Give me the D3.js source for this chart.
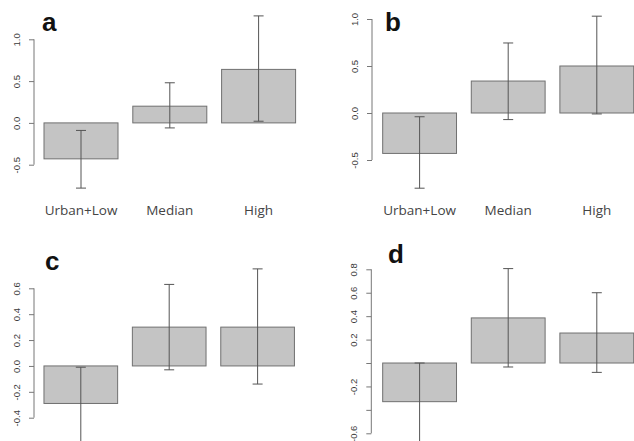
<!DOCTYPE html>
<html><head><meta charset="utf-8">
<script src="https://cdn.jsdelivr.net/npm/d3@7"></script>
<style>body{margin:0;background:#fff}svg{display:block}</style>
</head><body>
<script>
const categories = ["Urban+Low", "Median", "High"];
const panelLabels = ["a", "b", "c", "d"];

const valuesA = [-0.43, 0.20, 0.64];
const lowerA  = [-0.78, -0.06, 0.02];
const upperA  = [-0.09, 0.48, 1.28];
const ticksA  = [-0.5, 0.0, 0.5, 1.0];
const tickLabelsA = ["-0.5", "0.0", "0.5", "1.0"];

const valuesB = [-0.43, 0.34, 0.50];
const lowerB  = [-0.80, -0.07, -0.01];
const upperB  = [-0.04, 0.745, 1.03];
const ticksB  = [-0.5, 0.0, 0.5, 1.0];
const tickLabelsB = ["-0.5", "0.0", "0.5", "1.0"];

const valuesC = [-0.29, 0.30, 0.30];
const lowerC  = [-0.60, -0.03, -0.14];
const upperC  = [-0.01, 0.63, 0.75];
const ticksC  = [-0.4, -0.2, 0.0, 0.2, 0.4, 0.6];
const tickLabelsC = ["-0.4", "-0.2", "0.0", "0.2", "0.4", "0.6"];

const valuesD = [-0.33, 0.385, 0.256];
const lowerD  = [-0.68, -0.034, -0.08];
const upperD  = [0.0, 0.806, 0.60];
const ticksD  = [-0.6, -0.4, -0.2, 0.0, 0.2, 0.4, 0.6, 0.8];
const tickLabelsD = ["-0.6", "", "-0.2", "", "0.2", "0.4", "0.6", "0.8"];

const W = 634, H = 441;
const svg = d3.select("body").append("svg").attr("width", W).attr("height", H);

const panels = [
  {vals: valuesA, lo: lowerA, hi: upperA, ticks: ticksA, tl: tickLabelsA, axisX: 34, left: 36.6, step: 88.8,
   dom: [-0.5, 1.0], rng: [164.7, 39.3], lab: [42, 31], cats: true, catY: 215},
  {vals: valuesB, lo: lowerB, hi: upperB, ticks: ticksB, tl: tickLabelsB, axisX: 372, left: 375.3, step: 88.6,
   dom: [-0.5, 1.0], rng: [160, 19], lab: [385, 31], cats: true, catY: 215},
  {vals: valuesC, lo: lowerC, hi: upperC, ticks: ticksC, tl: tickLabelsC, axisX: 34, left: 36.6, step: 88.4,
   dom: [-0.4, 0.6], rng: [417.7, 288.3], lab: [45, 270], cats: false},
  {vals: valuesD, lo: lowerD, hi: upperD, ticks: ticksD, tl: tickLabelsD, axisX: 371.3, left: 375.3, step: 88.6,
   dom: [-0.6, 0.8], rng: [433.3, 269.3], lab: [388, 263], cats: false}
];

panels.forEach((p, i) => {
  const g = svg.append("g");
  const y = d3.scaleLinear().domain(p.dom).range(p.rng);
  const x = d3.scaleBand().domain(categories)
    .range([p.left, p.left + 3 * p.step]).paddingInner(1/6).paddingOuter(1/12);

  const axis = d3.axisLeft(y).tickValues(p.ticks).tickSize(5)
    .tickFormat((d, k) => p.tl[k]);
  const ag = g.append("g").attr("transform", `translate(${p.axisX},0)`).call(axis);
  ag.select(".domain").attr("stroke", "#777").attr("stroke-width", 1)
    .attr("d", `M0,${y(p.dom[0])}V${y(p.dom[1])}`);
  ag.selectAll(".tick line").attr("stroke", "#777");
  ag.selectAll(".tick text")
    .attr("font-family", "Liberation Sans, Arial, sans-serif")
    .attr("font-size", 9.5).attr("fill", "#3a3a3a")
    .attr("x", 0).attr("dy", 0)
    .attr("text-anchor", "middle")
    .attr("transform", "translate(-17,0) rotate(-90)")
    .attr("dominant-baseline", "middle");

  g.selectAll("rect.bar").data(p.vals).join("rect")
    .attr("class", "bar")
    .attr("x", (d, k) => x(categories[k]))
    .attr("width", x.bandwidth())
    .attr("y", d => Math.min(y(d), y(0)))
    .attr("height", d => Math.abs(y(d) - y(0)))
    .attr("fill", "#c4c4c4").attr("stroke", "#707070").attr("stroke-width", 1);

  const eg = g.selectAll("g.err").data(p.vals).join("g").attr("class", "err");
  eg.append("line")
    .attr("x1", (d, k) => x(categories[k]) + x.bandwidth() / 2)
    .attr("x2", (d, k) => x(categories[k]) + x.bandwidth() / 2)
    .attr("y1", (d, k) => y(p.lo[k])).attr("y2", (d, k) => y(p.hi[k]))
    .attr("stroke", "#555").attr("stroke-width", 1);
  ["lo", "hi"].forEach(key => {
    eg.append("line")
      .attr("x1", (d, k) => x(categories[k]) + x.bandwidth() / 2 - 5)
      .attr("x2", (d, k) => x(categories[k]) + x.bandwidth() / 2 + 5)
      .attr("y1", (d, k) => y(p[key][k])).attr("y2", (d, k) => y(p[key][k]))
      .attr("stroke", "#555").attr("stroke-width", 1);
  });

  if (p.cats) {
    g.selectAll("text.cat").data(categories).join("text")
      .attr("class", "cat")
      .attr("x", d => x(d) + x.bandwidth() / 2)
      .attr("y", p.catY)
      .attr("text-anchor", "middle")
      .attr("font-family", "Open Sans, sans-serif")
      .attr("font-size", 13.5).attr("fill", "#444")
      .text(d => d);
  }

  g.append("text").attr("x", p.lab[0]).attr("y", p.lab[1])
    .attr("font-family", "Liberation Sans, Arial, sans-serif")
    .attr("font-weight", "bold").attr("font-size", 26).attr("fill", "#111")
    .text(panelLabels[i]);
});
</script>
</body></html>
